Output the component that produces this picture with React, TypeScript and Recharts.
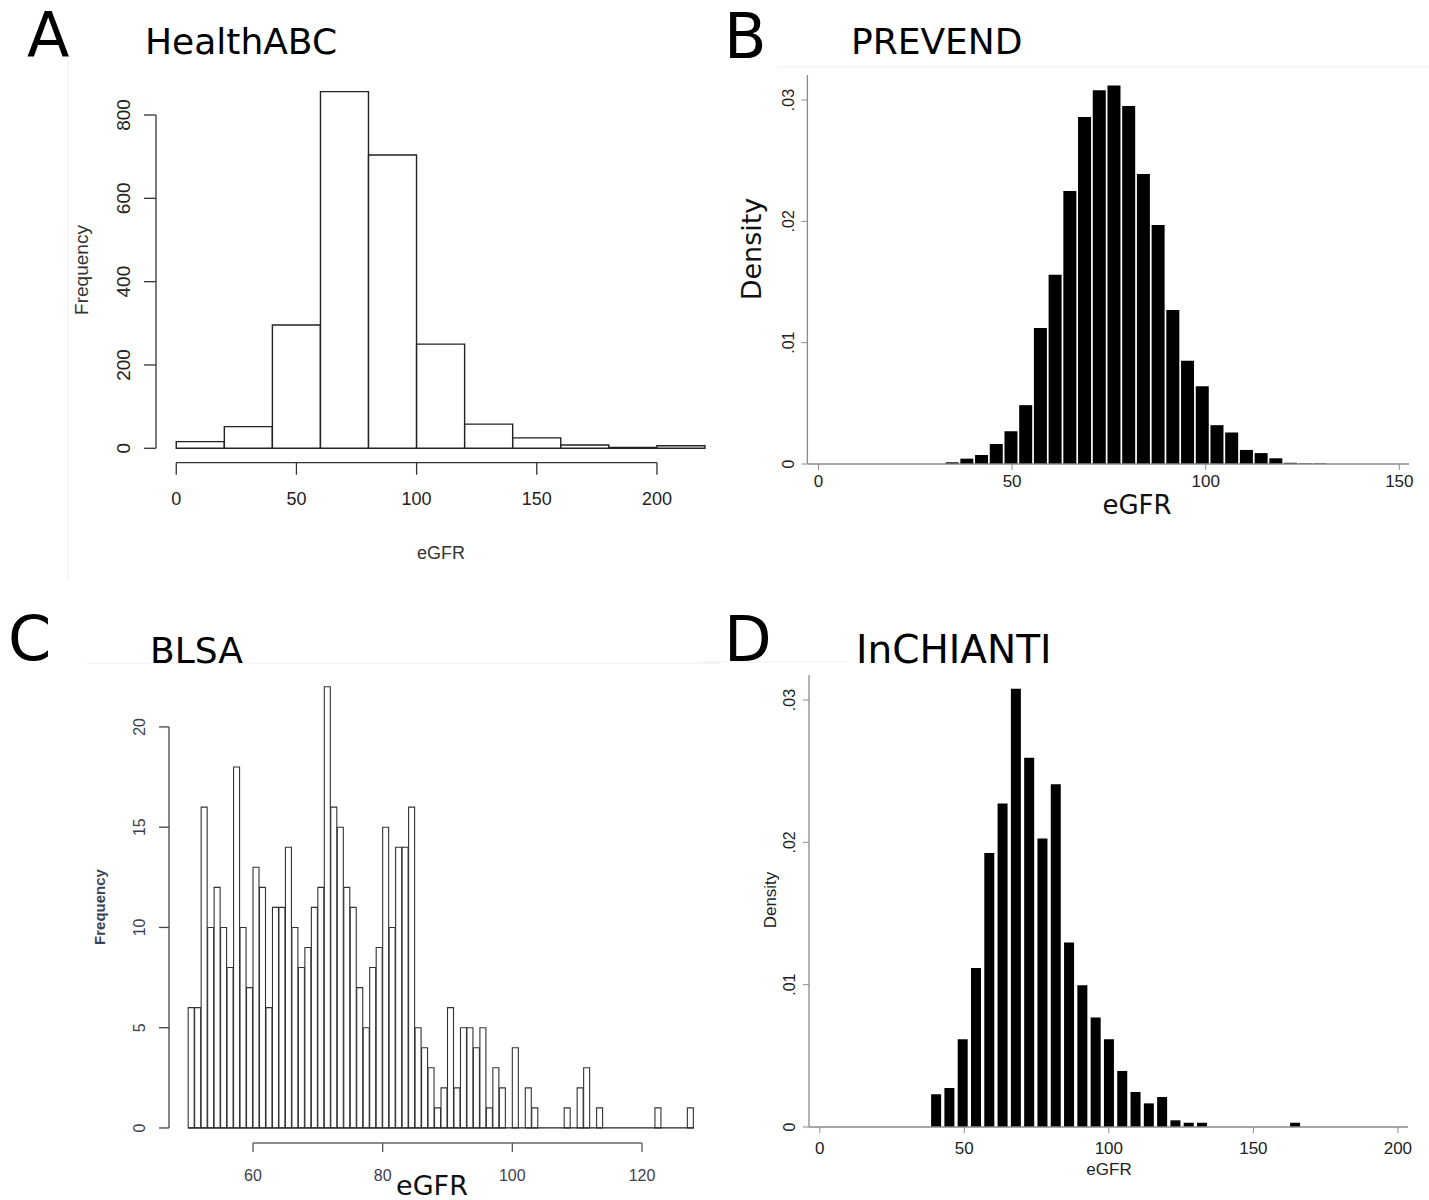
import React from 'react';
import { BarChart, Bar, XAxis, YAxis, ReferenceLine } from 'recharts';

// A - HealthABC (R histogram, bins of 20)
const healthBins = [10, 30, 50, 70, 90, 110, 130, 150, 170, 190, 210];
const healthFreq = [16, 52, 296, 856, 704, 250, 58, 25, 8, 2, 6];
const healthXTicks = [0, 50, 100, 150, 200];
const healthYTicks = [0, 200, 400, 600, 800];

// B - PREVEND (Stata density histogram)
const prevendBins = [34.5, 38.3, 42.1, 45.9, 49.7, 53.5, 57.3, 61.1, 64.9, 68.7, 72.5, 76.3, 80.1, 83.9, 87.7, 91.5, 95.3, 99.1, 102.9, 106.7, 110.5, 114.3, 118.1, 121.9, 125.7, 129.5];
const prevendDensity = [0.00014, 0.00044, 0.00074, 0.00165, 0.0027, 0.00485, 0.0112, 0.0156, 0.0225, 0.0286, 0.0308, 0.0312, 0.0295, 0.0239, 0.0197, 0.0127, 0.0085, 0.0064, 0.0032, 0.0026, 0.00116, 0.0009, 0.00047, 0.0001, 0.00005, 0.00005];
const prevendXTicks = [0, 50, 100, 150];

// C - BLSA (R histogram, bins of 1 from 50 to 128)
const blsaBins = [
  50.5, 51.5, 52.5, 53.5, 54.5, 55.5, 56.5, 57.5, 58.5, 59.5,
  60.5, 61.5, 62.5, 63.5, 64.5, 65.5, 66.5, 67.5, 68.5, 69.5,
  70.5, 71.5, 72.5, 73.5, 74.5, 75.5, 76.5, 77.5, 78.5, 79.5,
  80.5, 81.5, 82.5, 83.5, 84.5, 85.5, 86.5, 87.5, 88.5, 89.5,
  90.5, 91.5, 92.5, 93.5, 94.5, 95.5, 96.5, 97.5, 98.5, 99.5,
  100.5, 101.5, 102.5, 103.5, 104.5, 105.5, 106.5, 107.5, 108.5, 109.5,
  110.5, 111.5, 112.5, 113.5, 114.5, 115.5, 116.5, 117.5, 118.5, 119.5,
  120.5, 121.5, 122.5, 123.5, 124.5, 125.5, 126.5, 127.5,
];
const blsaFreq = [
  6, 6, 16, 10, 12, 10, 8, 18, 10, 7,
  13, 12, 6, 11, 11, 14, 10, 8, 9, 11,
  12, 22, 16, 15, 12, 11, 7, 5, 8, 9,
  15, 10, 14, 14, 16, 5, 4, 3, 1, 2,
  6, 2, 5, 5, 4, 5, 1, 3, 2, 0,
  4, 0, 2, 1, 0, 0, 0, 0, 1, 0,
  2, 3, 0, 1, 0, 0, 0, 0, 0, 0,
  0, 0, 1, 0, 0, 0, 0, 1,
];
const blsaXTicks = [60, 80, 100, 120];
const blsaYTicks = [0, 5, 10, 15, 20];

// D - InCHIANTI (Stata density histogram)
const chiantiBins = [40.3, 44.9, 49.5, 54.1, 58.7, 63.3, 67.9, 72.5, 77.1, 81.7, 86.3, 90.9, 95.5, 100.1, 104.7, 109.3, 113.9, 118.5, 123.1, 127.7, 132.3, 136.9, 141.5, 146.1, 150.7, 155.3, 159.9, 164.5];
const chiantiDensity = [0.0023, 0.00274, 0.00616, 0.01118, 0.01926, 0.02273, 0.0308, 0.02594, 0.02027, 0.02409, 0.01296, 0.00996, 0.00769, 0.00616, 0.00394, 0.00246, 0.00166, 0.00211, 0.00047, 0.0003, 0.0003, 0, 0, 0, 0, 0, 0, 0.0003];
const chiantiXTicks = [0, 50, 100, 150, 200];

const densityTicks = [0, 0.01, 0.02, 0.03];

const zip = (xs: number[], ys: number[]) => xs.map((x, i) => ({ x, y: ys[i] }));

const R_FONT = '"Liberation Sans", Arial, sans-serif';
const DV_FONT = '"DejaVu Sans", sans-serif';

const fmtDensity = (v: number) => (v === 0 ? '0' : v.toFixed(2).replace(/^0/, ''));

// y tick labels drawn parallel to the axis (rotated)
function RotTick(props: any) {
  const { x, y, payload, size, color, fmt } = props;
  const label = fmt ? fmt(payload.value) : String(payload.value);
  return (
    <text
      x={x}
      y={y}
      transform={`rotate(-90 ${x} ${y})`}
      textAnchor="middle"
      fontSize={size}
      fill={color}
      fontFamily={R_FONT}
    >
      {label}
    </text>
  );
}

function HealthABC() {
  return (
    <div style={{ position: 'absolute', left: 0, top: 0 }}>
      <BarChart
        width={720}
        height={600}
        data={zip(healthBins, healthFreq)}
        margin={{ left: 96, top: 80, right: 8, bottom: 77.3 }}
        barCategoryGap={0}
        barGap={0}
      >
        <XAxis
          type="number"
          dataKey="x"
          domain={[-8.43, 222.9]}
          ticks={healthXTicks}
          interval={0}
          height={60}
          axisLine={false}
          tickLine={{ stroke: '#333', strokeWidth: 1.3 }}
          tickSize={12}
          tickMargin={18}
          tick={{ fontSize: 18, fill: '#222', fontFamily: R_FONT }}
        />
        <YAxis
          type="number"
          domain={[-34.6, 884]}
          ticks={healthYTicks}
          interval={0}
          width={60}
          axisLine={false}
          tickLine={{ stroke: '#333', strokeWidth: 1.3 }}
          tickSize={12}
          tickMargin={14}
          tick={(p: any) => <RotTick {...p} size={19} color="#222" />}
        />
        <ReferenceLine segment={[{ x: 0, y: -34.6 }, { x: 200, y: -34.6 }]} stroke="#333" strokeWidth={1.3} ifOverflow="visible" />
        <ReferenceLine segment={[{ x: -8.43, y: 0 }, { x: -8.43, y: 800 }]} stroke="#333" strokeWidth={1.3} ifOverflow="visible" />
        <Bar dataKey="y" fill="#fff" stroke="#222" strokeWidth={1.4} isAnimationActive={false} />
      </BarChart>
    </div>
  );
}

function Prevend() {
  return (
    <div style={{ position: 'absolute', left: 715, top: 0 }}>
      <BarChart
        width={714}
        height={600}
        data={zip(prevendBins, prevendDensity)}
        margin={{ left: 52.4, top: 75, right: 20, bottom: 96 }}
        barCategoryGap="6%"
        barGap={0}
      >
        <XAxis
          type="number"
          dataKey="x"
          domain={[-2.87, 152.5]}
          ticks={prevendXTicks}
          interval={0}
          height={40}
          axisLine={{ stroke: '#8a8a8a', strokeWidth: 1.3 }}
          tickLine={{ stroke: '#8a8a8a' }}
          tickSize={6}
          tickMargin={5}
          tick={{ fontSize: 17, fill: '#222', fontFamily: R_FONT }}
        />
        <YAxis
          type="number"
          domain={[0, 0.03206]}
          ticks={densityTicks}
          interval={0}
          width={40}
          axisLine={{ stroke: '#8a8a8a', strokeWidth: 1.3 }}
          tickLine={{ stroke: '#8a8a8a' }}
          tickSize={6}
          tickMargin={7}
          tick={(p: any) => <RotTick {...p} size={16} color="#222" fmt={fmtDensity} />}
        />
        <Bar dataKey="y" fill="#000" isAnimationActive={false} />
      </BarChart>
    </div>
  );
}

function Blsa() {
  return (
    <div style={{ position: 'absolute', left: 0, top: 600 }}>
      <BarChart
        width={720}
        height={600}
        data={zip(blsaBins, blsaFreq)}
        margin={{ left: 109, top: 80, right: 20, bottom: 7 }}
        barCategoryGap={0}
        barGap={0}
      >
        <XAxis
          type="number"
          dataKey="x"
          domain={[47.04, 128.95]}
          ticks={blsaXTicks}
          interval={0}
          height={50}
          axisLine={false}
          tickLine={{ stroke: '#555', strokeWidth: 1.3 }}
          tickSize={9}
          tickMargin={18}
          tick={{ fontSize: 16, fill: '#3d4050', fontFamily: R_FONT }}
        />
        <YAxis
          type="number"
          domain={[-0.75, 22.34]}
          ticks={blsaYTicks}
          interval={0}
          width={60}
          axisLine={false}
          tickLine={{ stroke: '#444', strokeWidth: 1.3 }}
          tickSize={10}
          tickMargin={14}
          tick={(p: any) => <RotTick {...p} size={16} color="#3d4050" />}
        />
        <ReferenceLine segment={[{ x: 60, y: -0.75 }, { x: 120, y: -0.75 }]} stroke="#666" strokeWidth={1.3} ifOverflow="visible" />
        <ReferenceLine segment={[{ x: 47.04, y: 0 }, { x: 47.04, y: 20 }]} stroke="#444" strokeWidth={1.3} ifOverflow="visible" />
        <ReferenceLine segment={[{ x: 50, y: 0 }, { x: 128, y: 0 }]} stroke="#222" strokeWidth={1.3} ifOverflow="visible" />
        <Bar dataKey="y" fill="#fff" stroke="#333" strokeWidth={1.1} isAnimationActive={false} />
      </BarChart>
    </div>
  );
}

function Chianti() {
  return (
    <div style={{ position: 'absolute', left: 715, top: 600 }}>
      <BarChart
        width={714}
        height={600}
        data={zip(chiantiBins, chiantiDensity)}
        margin={{ left: 54, top: 75, right: 21, bottom: 23 }}
        barCategoryGap="11%"
        barGap={0}
      >
        <XAxis
          type="number"
          dataKey="x"
          domain={[-3.74, 203.5]}
          ticks={chiantiXTicks}
          interval={0}
          height={50}
          axisLine={{ stroke: '#8a8a8a', strokeWidth: 1.3 }}
          tickLine={{ stroke: '#8a8a8a' }}
          tickSize={6}
          tickMargin={9}
          tick={{ fontSize: 17, fill: '#222', fontFamily: R_FONT }}
        />
        <YAxis
          type="number"
          domain={[0, 0.03176]}
          ticks={densityTicks}
          interval={0}
          width={40}
          axisLine={{ stroke: '#8a8a8a', strokeWidth: 1.3 }}
          tickLine={{ stroke: '#8a8a8a' }}
          tickSize={6}
          tickMargin={8}
          tick={(p: any) => <RotTick {...p} size={16} color="#222" fmt={fmtDensity} />}
        />
        <Bar dataKey="y" fill="#000" isAnimationActive={false} />
      </BarChart>
    </div>
  );
}

export default function App() {
  return (
    <div style={{ position: 'absolute', left: 0, top: 0, width: 1429, height: 1200, background: '#fff', overflow: 'hidden' }}>
      <HealthABC />
      <Prevend />
      <Blsa />
      <Chianti />
      <svg width={1429} height={1200} style={{ position: 'absolute', left: 0, top: 0, pointerEvents: 'none' }}>
        {/* faint panel edges from the original figure */}
        <line x1={68} y1={60} x2={68} y2={580} stroke="#eeeeee" />
        <line x1={778} y1={67} x2={1429} y2={67} stroke="#eeeeee" />
        <line x1={87} y1={663} x2={720} y2={663} stroke="#eeeeee" />
        <line x1={700} y1={662} x2={850} y2={662} stroke="#eeeeee" />

        <g fontFamily={DV_FONT} fill="#000">
          <text x={27} y={57} fontSize={62}>A</text>
          <text x={145} y={54} fontSize={36}>HealthABC</text>
          <text x={724} y={58} fontSize={62}>B</text>
          <text x={851} y={54} fontSize={36}>PREVEND</text>
          <text x={8} y={660} fontSize={62}>C</text>
          <text x={150} y={663} fontSize={36}>BLSA</text>
          <text x={724} y={661} fontSize={62}>D</text>
          <text x={856} y={663} fontSize={39}>InCHIANTI</text>
        </g>

        {/* A axis titles */}
        <text x={81} y={270} transform="rotate(-90 81 270)" textAnchor="middle" dominantBaseline="central" fontSize={19} fontFamily={R_FONT} fill="#333">Frequency</text>
        <text x={441} y={553} textAnchor="middle" dominantBaseline="central" fontSize={18} fontFamily={R_FONT} fill="#333">eGFR</text>

        {/* B axis titles */}
        <text x={751} y={249} transform="rotate(-90 751 249)" textAnchor="middle" dominantBaseline="central" fontSize={27} fontFamily={DV_FONT} fill="#111">Density</text>
        <text x={1137} y={505} textAnchor="middle" dominantBaseline="central" fontSize={26} fontFamily={DV_FONT} fill="#111">eGFR</text>

        {/* C axis titles */}
        <text x={99} y={907} transform="rotate(-90 99 907)" textAnchor="middle" dominantBaseline="central" fontSize={15} fontWeight="bold" fontFamily={R_FONT} fill="#3a4258">Frequency</text>
        <text x={432} y={1195} textAnchor="middle" fontSize={27} fontFamily={DV_FONT} fill="#111">eGFR</text>

        {/* D axis titles */}
        <text x={770} y={900} transform="rotate(-90 770 900)" textAnchor="middle" dominantBaseline="central" fontSize={17} fontFamily={R_FONT} fill="#222">Density</text>
        <text x={1109} y={1169} textAnchor="middle" dominantBaseline="central" fontSize={17} fontFamily={R_FONT} fill="#222">eGFR</text>
      </svg>
    </div>
  );
}
